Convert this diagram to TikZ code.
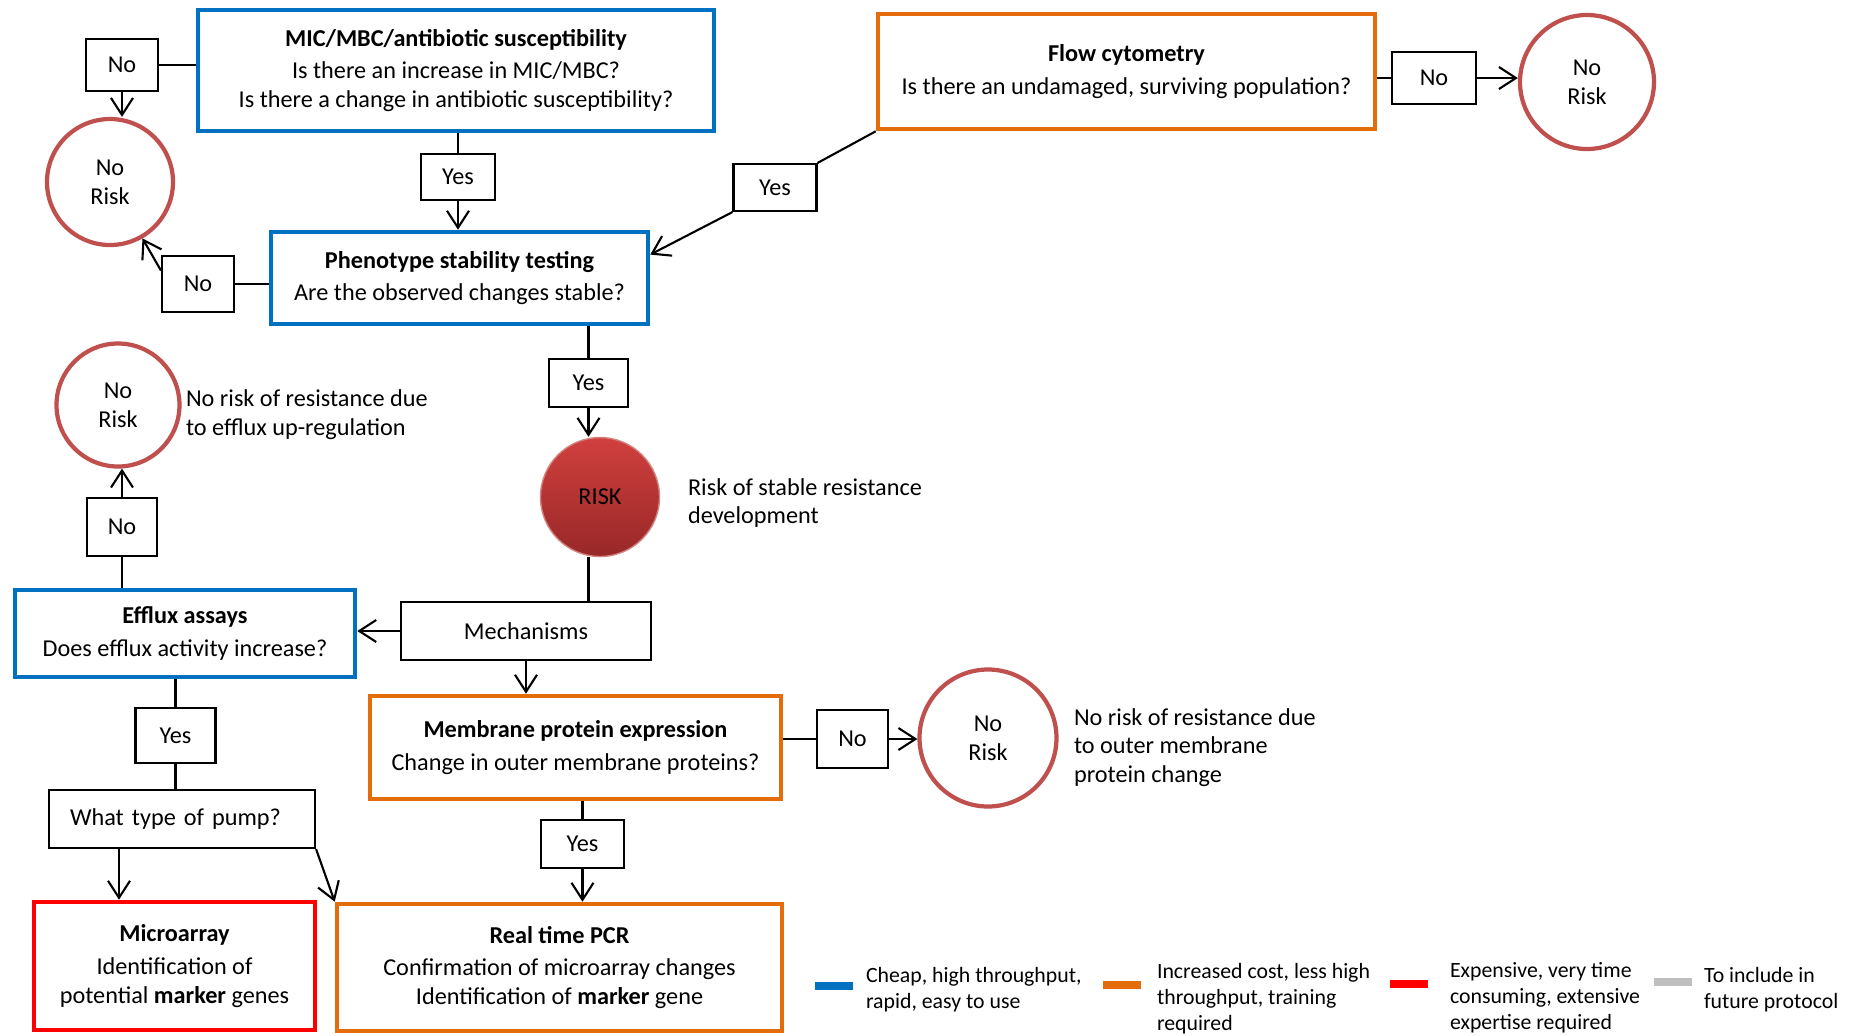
\documentclass[tikz,border=0pt]{standalone}
\usepackage{fontspec}
\setmainfont{Carlito}
\usetikzlibrary{arrows.meta,positioning,calc}

\definecolor{boxblue}{RGB}{0,112,192}
\definecolor{boxorange}{RGB}{228,108,10}
\definecolor{boxred}{RGB}{255,0,0}
\definecolor{boxgray}{RGB}{191,191,191}
\definecolor{riskring}{RGB}{192,80,77}
\definecolor{riskhi}{RGB}{208,64,62}
\definecolor{risklo}{RGB}{152,40,40}

\tikzset{
	test/.style={draw,line width=1.3pt,align=center,inner sep=0pt},
	cheap/.style={test,draw=boxblue},
	costly/.style={test,draw=boxorange},
	pricey/.style={test,draw=boxred},
	answer/.style={draw,line width=0.6pt,inner sep=0pt},
	norisk/.style={circle,draw=riskring,line width=1.2pt,inner sep=0pt,align=center},
	note/.style={anchor=west,align=left,inner sep=0pt},
	legend/.style={note,font=\fontsize{6.2}{7.4}\selectfont},
	key/.style={minimum width=0.38cm,minimum height=0.08cm,inner sep=0pt}
}

\begin{document}
\begin{tikzpicture}[>={Straight Barb[length=1.7mm,width=2.2mm]},line width=0.6pt,
		font=\fontsize{6.9}{8.2}\selectfont]

	\path[use as bounding box,fill=white] (0,0) rectangle (18.52,-10.35);

	\node[cheap,minimum width=5.16cm,minimum height=1.21cm] (mic) at (4.56,-0.705)
		{\textbf{MIC/MBC/antibiotic susceptibility}\\[1pt] Is there an increase in MIC/MBC?\\ Is there a change in antibiotic susceptibility?};
	\node[answer,minimum width=0.72cm,minimum height=0.52cm] (noA) at (1.22,-0.65) {No};
	\node[norisk,minimum size=1.26cm] (nr1) at (1.10,-1.82) {No\\Risk};
	\node[answer,minimum width=0.74cm,minimum height=0.46cm] (yesA) at (4.58,-1.77) {Yes};

	\draw (noA.east) -- (noA.east -| mic.west);
	\draw[->] (noA.south) -- (noA.south |- nr1.north);
	\draw (mic.south -| yesA.north) -- (yesA.north);

	\node[cheap,minimum width=3.77cm,minimum height=0.92cm] (pheno) at (4.595,-2.78)
		{\textbf{Phenotype stability testing}\\[1pt] Are the observed changes stable?};
	\node[answer,minimum width=0.72cm,minimum height=0.56cm] (noB) at (1.98,-2.84) {No};

	\draw[->] (yesA.south) -- (yesA.south |- pheno.north);
	\draw (noB.east) -- (noB.east -| pheno.west);
	\draw[->] (noB.160) -- (nr1);

	\node[costly,minimum width=4.97cm,minimum height=1.15cm] (flow) at (11.265,-0.715)
		{\textbf{Flow cytometry}\\[1pt] Is there an undamaged, surviving population?};
	\node[answer,minimum width=0.84cm,minimum height=0.52cm] (noC) at (14.34,-0.78) {No};
	\node[norisk,minimum size=1.34cm] (nr2) at (15.87,-0.82) {No\\Risk};
	\node[answer,minimum width=0.83cm,minimum height=0.47cm] (yesB) at (7.75,-1.875) {Yes};

	\draw (noC.west -| flow.east) -- (noC.west);
	\draw[->] (noC.east) -- (noC.east -| nr2.west);
	\draw (flow.south west) -- (yesB.north east);
	\draw[->] (yesB.south west) -- (pheno.7);

	\node[answer,minimum width=0.79cm,minimum height=0.48cm] (yesC) at (5.885,-3.83) {Yes};
	\node[circle,minimum size=1.19cm,inner sep=0pt,top color=riskhi,bottom color=risklo,
		draw=riskring!70!white,line width=0.4pt] (risk) at (6.00,-4.97) {RISK};
	\node[note] (risktxt) at (6.87,-5.03) {Risk of stable resistance\\development};

	\draw (pheno.south -| yesC.north) -- (yesC.north);
	\draw[->] (yesC.south) -- (yesC.south |- risk.north);

	\node[answer,minimum width=2.50cm,minimum height=0.58cm] (mech) at (5.26,-6.31) {Mechanisms};
	\node[cheap,minimum width=3.40cm,minimum height=0.87cm] (efflux) at (1.85,-6.335)
		{\textbf{Efflux assays}\\[1pt] Does efflux activity increase?};

	\draw (yesC.south |- risk.south) -- (yesC.south |- mech.north);
	\draw[->] (mech.west) -- (mech.west -| efflux.east);

	\node[answer,minimum width=0.70cm,minimum height=0.58cm] (noD) at (1.22,-5.27) {No};
	\node[norisk,minimum size=1.23cm] (nr3) at (1.18,-4.05) {No\\Risk};
	\node[note] (nr3txt) at (1.85,-4.145) {No risk of resistance due\\to efflux up-regulation};

	\draw (efflux.north -| noD.south) -- (noD.south);
	\draw[->] (noD.north) -- (noD.north |- nr3.south);

	\node[answer,minimum width=0.80cm,minimum height=0.55cm] (yesD) at (1.755,-7.355) {Yes};
	\node[answer,minimum width=2.66cm,minimum height=0.58cm,inner xsep=0.21cm,text width=2.24cm,align=left]
		(pump) at (1.82,-8.19) {What type of pump?};
	\node[pricey,minimum width=2.81cm,minimum height=1.28cm] (micro) at (1.745,-9.66)
		{\textbf{Microarray}\\[1pt] Identification of\\ potential \textbf{marker} genes};

	\draw (efflux.south -| yesD.north) -- (yesD.north);
	\draw (yesD.south) -- (yesD.south |- pump.north);
	\draw[->] ([xshift=-0.63cm]pump.south) -- ([xshift=-0.63cm]pump.south |- micro.north);

	\node[costly,minimum width=4.11cm,minimum height=1.03cm] (memb) at (5.755,-7.475)
		{\textbf{Membrane protein expression}\\[1pt] Change in outer membrane proteins?};
	\node[answer,minimum width=0.83cm,minimum height=0.48cm] (yesE) at (5.825,-8.44) {Yes};
	\node[costly,minimum width=4.45cm,minimum height=1.27cm] (pcr) at (5.595,-9.675)
		{\textbf{Real time PCR}\\[1pt] Confirmation of microarray changes\\ Identification of \textbf{marker} gene};

	\draw[->] (mech.south) -- (mech.south |- memb.north);
	\draw[->] (pump.south east) -- (pcr.north west);
	\draw (memb.south -| yesE.north) -- (yesE.north);
	\draw[->] (yesE.south) -- (yesE.south |- pcr.north);

	\node[answer,minimum width=0.71cm,minimum height=0.58cm] (noE) at (8.525,-7.39) {No};
	\node[norisk,minimum size=1.37cm] (nr4) at (9.88,-7.38) {No\\Risk};
	\node[note] (nr4txt) at (10.73,-7.475) {No risk of resistance due\\to outer membrane\\protein change};

	\draw (noE.west -| memb.east) -- (noE.west);
	\draw[->] (noE.east) -- (noE.east -| nr4.west);

	\node[key,fill=boxblue] (kblue) at (8.34,-9.86) {};
	\node[legend] (tblue) at (8.65,-9.90) {Cheap, high throughput,\\rapid, easy to use};
	\node[key,fill=boxorange] (korange) at (11.215,-9.845) {};
	\node[legend] (torange) at (11.56,-9.99) {Increased cost, less high\\throughput, training\\required};
	\node[key,fill=boxred] (kred) at (14.085,-9.84) {};
	\node[legend] (tred) at (14.49,-9.975) {Expensive, very time\\consuming, extensive\\expertise required};
	\node[key,fill=boxgray] (kgray) at (16.73,-9.815) {};
	\node[legend] (tgray) at (17.03,-9.90) {To include in\\future protocol};
\end{tikzpicture}
\end{document}
